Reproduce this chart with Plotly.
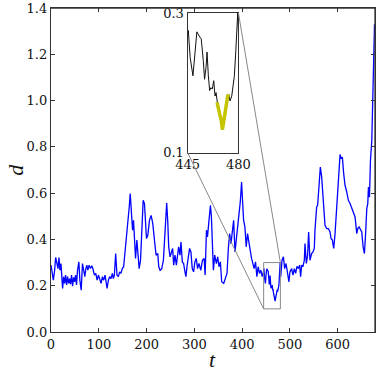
import plotly.graph_objects as go

# ---- data ----
t_vals = [
    0, 2.8, 4.9, 7.6, 9.7, 12.5, 14.6, 16.7, 18.7, 20.8, 22.2, 24.3, 26.4, 28.5, 30.5, 32.6, 34.7, 36.8, 38.9, 40.9,
    43, 45.1, 47.2, 49.3, 51.4, 53.4, 55.5, 58.3, 60.4, 63.2, 65.9, 68, 70.8, 72.9, 75, 77, 79.8, 82.6, 85.4, 88.1,
    90.9, 93.7, 96.5, 99.2, 102, 104.8, 107.6, 110.3, 113.1, 115.2, 117.3, 120.1, 122.8, 125.6, 128.4, 130.5, 132.6,
    135.3, 138.1, 140.9, 143.7, 146.4, 149.2, 152,
    154, 157.5, 160.9, 163.7, 165.8, 167.9, 170.7, 172.7, 174.8, 176.9, 179.7, 181.8, 184.5, 187.3, 190.1, 192.9,
    195.6, 197.7, 199.8, 202.6, 206.1, 209.5, 213, 216.5, 219.9, 223.4, 225.5, 228.3, 231.7, 235.2, 238.7, 242.1,
    244.2, 246.3, 249.1, 251.9, 254.6, 256.7, 259.5, 262.3, 265, 267.1, 269.9, 272, 274.8, 277.5, 280.3, 282.4,
    284.5, 287.2, 290, 292.8, 295.6, 298.4, 301.1, 303.9, 306.7, 309.5,
    313.5, 316.9, 320.4, 322.5, 325.3, 327.4, 330.8, 333.6, 335.7, 337.8, 339.8, 342.6, 346.1, 348.9, 351.6, 354.4,
    357.2, 361.4, 365.5, 368.3, 371.1, 373.8, 376.6, 379.4, 382.2, 385, 387.7, 390.5, 393.3, 396.1, 398.8, 400.9,
    403, 405.8, 408.5, 411.3, 414.1, 416.9, 419.7, 422.4, 425.2, 428, 430.8, 433.5, 436.3, 439.1, 441.9, 444.6,
    445.5, 446.8, 448.7, 450, 451.4, 453, 454.4, 455.8, 456.7, 457.7, 458.4, 459.3, 460.2, 461.1, 462, 463, 463.9,
    464.6, 465.3, 466.2, 467.1, 468, 469, 469.9, 470.8, 471.7, 472.6, 473.5, 474.2, 475.4, 476.3, 477.2, 478.2,
    478.8, 479.5,
    480.7, 483.5, 486.3, 489, 491.8, 494.6, 497.9, 500, 503.5, 506.3, 509.1, 511.9, 514.7, 517.5, 520.3, 522.4,
    524.5, 527.3, 530.1, 531.5, 534.3, 537, 539.1, 541.9, 545.4, 548.2, 551, 552.4, 555.9, 558, 560.8, 563.6,
    566.4, 568.5, 571.3, 573.4, 576.9, 580.4, 583.9, 586, 588.8, 591.6, 594.4, 597.9, 601.4, 604.9, 606.9, 609.7,
    612.5, 615.3, 618.8, 622.3, 625.8, 629.3, 632.8, 636.3, 639.8, 641.9, 644.7, 647.5, 650.3, 653.1, 655.9,
    658.7, 660.8, 662.9, 664.3, 666.4, 668.5, 671.3, 674, 677,
]
d_vals = [
    .289, .239, .224, .267, .322, .296, .274, .322, .267, .296, .253, .188, .239, .210, .246, .203, .239, .210, .231, .207,
    .246, .198, .236, .217, .246, .203, .267, .303, .224, .181, .296, .260, .239, .274, .289, .267, .289, .274, .286, .270,
    .246, .253, .224, .246, .231, .210, .239, .224, .246, .217, .188, .224, .239, .231, .253, .231, .246,
    .339, .246, .239, .260, .253, .274, .282,
    .325, .404, .454, .540, .598, .526, .440, .483, .368, .318, .397, .339, .274, .310, .425, .569,
    .555, .440, .404, .418, .483, .504, .468, .397, .332, .339, .282, .267, .274, .310, .468, .557,
    .483, .368, .325, .346, .361, .289, .332, .289, .346, .368, .332, .389, .303, .296, .260, .239,
    .282, .332, .361, .346, .274, .260, .303, .318, .274, .296,
    .267, .310, .318, .246, .440, .411, .483, .547, .497, .325, .267, .332, .296, .325, .282, .303,
    .217, .210, .231, .253, .361, .425, .382, .440, .483, .346, .397, .432, .497, .562, .648, .583,
    .483, .454, .368, .425, .375, .353, .318, .296, .274, .303, .239, .282, .253, .267, .239, .260,
    .275, .236, .210, .246, .273, .267, .263, .232, .205, .222, .244, .210, .189, .193, .191, .203, .181,
    .186, .172, .160, .155, .148, .133, .145, .160, .172, .181, .183, .174, .181, .196, .210, .246,
    .279, .300,
    .239, .310, .325, .274, .296, .267, .217, .260, .274, .246, .274, .253, .284, .274, .289, .239,
    .289, .282, .310, .382, .296, .332, .432, .310, .339, .346, .361, .440, .540, .547, .612, .713,
    .670, .598, .511, .461, .447, .447, .432, .404, .397, .361, .425, .540, .648, .767, .749, .756,
    .684, .634, .605, .569, .555, .533, .519, .497, .425, .447, .454, .440, .432, .368, .339,
    .440, .533, .555, .626, .583, .741, .828, 1.05, 1.33,
]

x_ticks = [0, 100, 200, 300, 400, 500, 600]
y_ticks = [0.0, 0.2, 0.4, 0.6, 0.8, 1.0, 1.2, 1.4]
X_RANGE = [0, 678]
Y_RANGE = [0, 1.4]

ZOOM_X = [445, 480]
ZOOM_Y = [0.1, 0.3]
HIGHLIGHT = [465.3, 473.5]

INSET_X_DOMAIN = [0.4215, 0.5785]
INSET_Y_DOMAIN = [0.5538, 0.9846]

hl_t = [t for t in t_vals if HIGHLIGHT[0] <= t <= HIGHLIGHT[1]]
hl_d = [d for t, d in zip(t_vals, d_vals) if HIGHLIGHT[0] <= t <= HIGHLIGHT[1]]

TICK_FONT = dict(family="DejaVu Serif", size=13, color="#111")
AX_COL = "#333"

fig = go.Figure()
fig.add_trace(go.Scatter(x=t_vals, y=d_vals, mode="lines",
                         line=dict(color="#0000ff", width=1.3), showlegend=False))
fig.add_trace(go.Scatter(x=t_vals, y=d_vals, mode="lines", xaxis="x2", yaxis="y2",
                         line=dict(color="#111", width=1), showlegend=False))
fig.add_trace(go.Scatter(x=hl_t, y=hl_d, mode="lines", xaxis="x2", yaxis="y2",
                         line=dict(color="#c4c400", width=3.5), showlegend=False))


def to_main_x(p):
    return X_RANGE[0] + p * (X_RANGE[1] - X_RANGE[0])


def to_main_y(p):
    return Y_RANGE[0] + p * (Y_RANGE[1] - Y_RANGE[0])


GRAY = dict(color="#888", width=1)
shapes = [
    dict(type="rect", xref="x", yref="y", x0=ZOOM_X[0], x1=ZOOM_X[1], y0=ZOOM_Y[0], y1=ZOOM_Y[1], line=GRAY),
    dict(type="line", xref="x", yref="y", x0=ZOOM_X[0], y0=ZOOM_Y[0],
         x1=to_main_x(INSET_X_DOMAIN[0]), y1=to_main_y(INSET_Y_DOMAIN[0]), line=GRAY),
    dict(type="line", xref="x", yref="y", x0=ZOOM_X[1], y0=ZOOM_Y[1],
         x1=to_main_x(INSET_X_DOMAIN[1]), y1=to_main_y(INSET_Y_DOMAIN[1]), line=GRAY),
    # frame of the main axes (top / right spines)
    dict(type="line", xref="paper", yref="paper", x0=0, x1=1, y0=1, y1=1, layer="above",
         line=dict(color=AX_COL, width=1.3)),
    dict(type="line", xref="paper", yref="paper", x0=1, x1=1, y0=0, y1=1, layer="above",
         line=dict(color=AX_COL, width=1.3)),
]

fig.update_layout(
    template="none",
    width=377, height=374,
    margin=dict(l=51, r=2, t=8, b=42, autoexpand=False),
    paper_bgcolor="white", plot_bgcolor="white",
    xaxis=dict(domain=[0, 1], range=X_RANGE, tickvals=x_ticks, ticks="inside", ticklen=4,
               tickcolor=AX_COL, showline=True, linecolor=AX_COL, linewidth=1.3, mirror="ticks",
               showgrid=False, zeroline=False, tickfont=TICK_FONT, automargin=False),
    yaxis=dict(domain=[0, 1], range=Y_RANGE, tickvals=y_ticks, tickformat=".1f", ticks="inside",
               ticklen=4, tickcolor=AX_COL, showline=True, linecolor=AX_COL, linewidth=1.3,
               mirror="ticks", showgrid=False, zeroline=False, tickfont=TICK_FONT, automargin=False),
    xaxis2=dict(domain=INSET_X_DOMAIN, anchor="y2", range=ZOOM_X, tickvals=ZOOM_X,
                showline=True, linecolor=AX_COL, linewidth=1.3, mirror=True, ticks="",
                showgrid=False, zeroline=False, tickfont=TICK_FONT, automargin=False),
    yaxis2=dict(domain=INSET_Y_DOMAIN, anchor="x2", range=ZOOM_Y, tickvals=ZOOM_Y,
                tickformat=".1f", showline=True, linecolor=AX_COL, linewidth=1.3, mirror=True,
                ticks="", showgrid=False, zeroline=False, tickfont=TICK_FONT, automargin=False),
    shapes=shapes,
    annotations=[
        dict(text="<i>d</i>", xref="paper", yref="paper", x=-51 / 325, y=0.5, textangle=-90,
             showarrow=False, xanchor="left", yanchor="middle",
             font=dict(family="Liberation Serif", size=22, color="#111")),
        dict(text="<i>t</i>", xref="paper", yref="paper", x=0.498, y=-42 / 324, showarrow=False,
             xanchor="center", yanchor="bottom",
             font=dict(family="Liberation Serif", size=22, color="#111")),
    ],
)

fig.write_html("out.html", config={"displayModeBar": False},
               post_script="document.body.style.margin='0';window.scrollTo(0,0);")
